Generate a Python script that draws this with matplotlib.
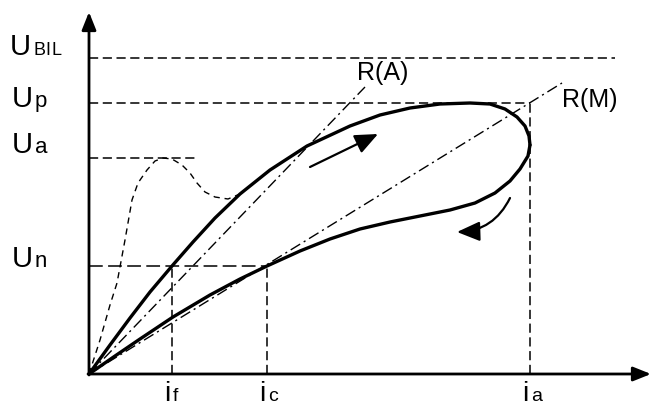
import matplotlib.pyplot as plt

plt.rcParams['font.family'] = ['Liberation Sans', 'DejaVu Sans']

# characteristic levels (arbitrary units, origin at the axes corner)
u_n, u_a, u_p, u_bil = 108, 216, 271, 316
i_f, i_c, i_a = 83, 178, 441

# hysteresis loop, rising branch then falling branch
up_i = [0, 21, 41, 61, 83, 104, 126, 151, 181, 218, 261, 291, 321, 351,
        381, 401, 416, 428, 436, 440, 441]
up_u = [0, 29, 56, 82, 108, 132, 156, 180, 204, 228, 248, 259, 266, 270,
        271, 270, 265, 257, 248, 238, 229]
down_i = [441, 439, 431, 421, 406, 386, 361, 331, 301, 271, 241, 211, 178,
          151, 121, 84, 51, 26, 0]
down_u = [229, 218, 205, 193, 181, 171, 164, 158, 152, 145, 135, 123, 108,
          95, 79, 57, 35, 18, 0]

# thin dashed current wave with its bump at U_a
bump_i = [0, 11, 21, 28, 36, 43, 49, 58, 66, 74, 83, 93, 101, 108, 116,
          126, 139, 151]
bump_u = [0, 34, 69, 91, 134, 174, 191, 204, 213, 216, 215, 209, 201, 191,
          182, 177, 175, 180]

# resistance lines R(A) and R(M), end points
ra_end = (276, 287)
rm_end = (473, 291)

fig = plt.figure(figsize=(6.66, 4.07), dpi=100)
ax = fig.add_axes([0, 0, 1, 1])
ax.set_xlim(-89, 577)
ax.set_ylim(-33, 374)
ax.axis('off')

# axes with arrows
axis_arrow = dict(arrowstyle='-|>,head_length=0.6,head_width=0.24',
                  lw=2, color='black', mutation_scale=18,
                  shrinkA=0, shrinkB=0)
ax.annotate('', xy=(0, 362), xytext=(0, -1), arrowprops=axis_arrow)
ax.annotate('', xy=(562, 0), xytext=(-1, 0), arrowprops=axis_arrow)

# level lines
dash = (0, (6, 3))
ax.plot([0, 526], [u_bil, u_bil], color='black', lw=1.1, ls=dash)
ax.plot([0, i_a], [u_p, u_p], color='black', lw=1.1, ls=dash)
ax.plot([0, 107], [u_a, u_a], color='black', lw=1.1, ls=dash)
ax.plot([0, i_c], [u_n, u_n], color='black', lw=1.1, ls=(0, (9, 3.5)))
for x, top in [(i_f, u_n), (i_c, u_n), (i_a, u_p)]:
    ax.plot([x, x], [0, top], color='black', lw=1.1, ls=dash)

# resistance lines
dashdot = (0, (8, 3, 1.5, 3))
ax.plot([0, ra_end[0]], [0, ra_end[1]], color='black', lw=1, ls=dashdot)
ax.plot([0, rm_end[0]], [0, rm_end[1]], color='black', lw=1, ls=dashdot)

# bump curve
ax.plot(bump_i, bump_u, color='black', lw=1, ls=(0, (4.5, 3.5)))

# loop
ax.plot(up_i, up_u, color='black', lw=2.4, solid_joinstyle='round',
        solid_capstyle='round')
ax.plot(down_i, down_u, color='black', lw=2.4, solid_joinstyle='round',
        solid_capstyle='round')

# direction arrows
ax.annotate('', xy=(289, 240), xytext=(221, 207),
            arrowprops=dict(arrowstyle='-|>,head_length=0.7,head_width=0.3',
                            lw=1.6, color='black', mutation_scale=20,
                            shrinkA=0, shrinkB=0))
ax.annotate('', xy=(368, 142), xytext=(421, 176),
            arrowprops=dict(arrowstyle='-|>,head_length=0.7,head_width=0.3',
                            lw=1.6, color='black', mutation_scale=20,
                            shrinkA=0, shrinkB=0,
                            connectionstyle='arc3,rad=-0.3'))

# labels
ax.text(268, 294, 'R(A)', fontsize=18, ha='left', va='baseline')
ax.text(473, 267, 'R(M)', fontsize=18, ha='left', va='baseline')

for y, sub in [(267, 'p'), (221, 'a'), (107, 'n')]:
    ax.text(-77, y, 'U', fontsize=21, ha='left', va='baseline')
    ax.text(-54, y, sub, fontsize=16, ha='left', va='baseline')
ax.text(-79, 319, 'U', fontsize=21, ha='left', va='baseline')
for x, ch in [(-55, 'B'), (-44, 'I'), (-37, 'L')]:
    ax.text(x, 319, ch, fontsize=13, ha='left', va='baseline')

for x, sub in [(i_f, 'f'), (i_c, 'c'), (i_a, 'a')]:
    ax.text(x - 8, -27, 'i', fontsize=20, ha='left', va='baseline')
    ax.text(x + 1, -27, sub, fontsize=14, ha='left', va='baseline')

fig.savefig('out.png', dpi=100)
